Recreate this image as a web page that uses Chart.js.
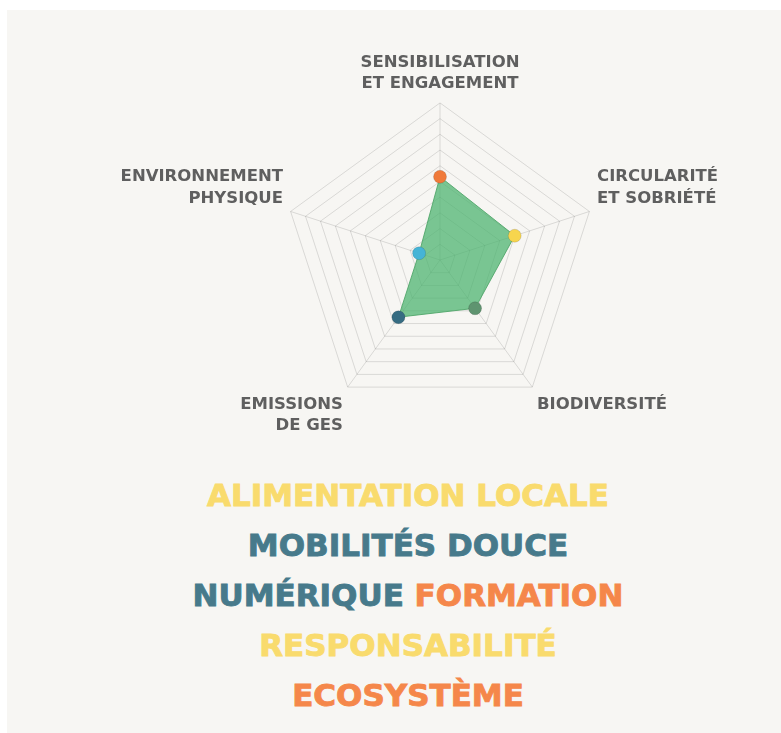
<!DOCTYPE html>
<html>
<head>
<meta charset="utf-8">
<script src="https://cdn.jsdelivr.net/npm/chart.js@4.4.0/dist/chart.umd.min.js"></script>
<style>
  html, body { margin: 0; padding: 0; width: 781px; height: 733px; overflow: hidden; background: #fff; }
  #panel { position: absolute; left: 7px; top: 10px; right: 0; bottom: 0; background: #f7f6f3; }
  #radar { position: absolute; left: 0; top: 33px; }
  #mots { position: absolute; left: 35px; right: 0; top: 470px; text-align: center;
          font-family: "DejaVu Sans", sans-serif; font-weight: bold; font-size: 31px; line-height: 50px;
          -webkit-text-stroke: 0.9px currentColor; }
  .jaune { color: #f9db6d; }
  .bleu { color: #477a8b; }
  .orange { color: #f5874a; }
</style>
</head>
<body>
<div id="panel"></div>
<canvas id="radar" width="880" height="416"></canvas>
<div id="mots">
  <div class="jaune">ALIMENTATION LOCALE</div>
  <div class="bleu">MOBILITÉS DOUCE</div>
  <div><span class="bleu">NUMÉRIQUE</span> <span class="orange">FORMATION</span></div>
  <div class="jaune">RESPONSABILITÉ</div>
  <div class="orange">ECOSYSTÈME</div>
</div>
<script>
// Axes du radar (dans l'ordre des aiguilles d'une montre, depuis le haut)
const categories = [
    ['SENSIBILISATION', 'ET ENGAGEMENT'],
    ['CIRCULARITÉ', 'ET SOBRIÉTÉ'],
    'BIODIVERSITÉ',
    ['EMISSIONS', 'DE GES'],
    ['ENVIRONNEMENT', 'PHYSIQUE']
];

// Scores (échelle 0 à 10)
const scores = [5.3, 5, 3.8, 4.5, 1.4];

// Couleur de chaque point
const pointColors = ['#f07a3a', '#f7d54e', '#5f9470', '#366c82', '#45b4d6'];

const scaleMin = 0;
const scaleMax = 10;

let ctx = document.getElementById('radar').getContext('2d');

new Chart(ctx, {
    type: 'radar',
    data: {
        labels: categories,
        datasets: [{
            label: 'Score',
            data: scores,
            backgroundColor: 'rgba(72, 178, 108, 0.72)',
            borderColor: 'rgba(80, 165, 105, 0.9)',
            borderWidth: 1,
            pointBackgroundColor: pointColors,
            pointBorderColor: 'rgba(0, 0, 0, 0.12)',
            pointBorderWidth: 1,
            pointRadius: 6.5,
            pointHoverRadius: 6.5
        }]
    },
    options: {
        responsive: false,
        animation: false,
        devicePixelRatio: 1,
        plugins: {
            legend: { display: false },
            tooltip: { enabled: false }
        },
        scales: {
            r: {
                min: scaleMin,
                max: scaleMax,
                ticks: { display: false, stepSize: 1 },
                grid: { color: 'rgba(0, 0, 0, 0.12)', lineWidth: 1 },
                angleLines: { color: 'rgba(0, 0, 0, 0.12)', lineWidth: 1 },
                pointLabels: {
                    color: '#5f5f5f',
                    padding: 8,
                    font: { family: '"DejaVu Sans", sans-serif', weight: 'bold', size: 16.5, lineHeight: 1.3 }
                }
            }
        }
    }
});
</script>
</body>
</html>
